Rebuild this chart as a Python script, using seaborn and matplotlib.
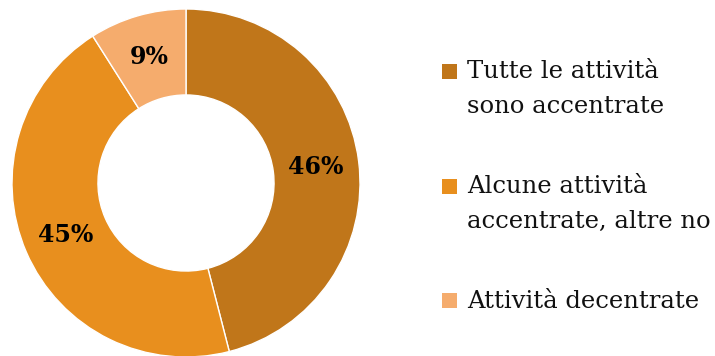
import matplotlib
matplotlib.use("Agg")
import matplotlib.pyplot as plt
from matplotlib.patches import Rectangle
import seaborn as sns

categories = ["Tutte le attività\nsono accentrate",
              "Alcune attività\naccentrate, altre no",
              "Attività decentrate"]
shares = [46, 45, 9]
pct_labels = ["46%", "45%", "9%"]
colors = ["#C0761A", "#E88F1E", "#F5AC6D"]

sns.set_theme(style="white")
plt.rcParams["font.family"] = ["DejaVu Serif"]

W, H = 715, 356
fig = plt.figure(figsize=(W / 100, H / 100), dpi=100)

# donut: outer radius 174 px, centre at (186, 183) px from top-left
R = 174
cx, cy = 186, 183
ax = fig.add_axes([(cx - R) / W, (H - cy - R) / H, 2 * R / W, 2 * R / H])
wedges, texts = ax.pie(
    shares,
    colors=colors,
    startangle=90,
    counterclock=False,
    radius=1.0,
    labels=pct_labels,
    labeldistance=0.753,
    wedgeprops=dict(width=0.494, edgecolor="white", linewidth=1.0),
    textprops=dict(fontsize=17, fontweight="bold", color="black",
                   ha="center", va="center"),
)
ax.set_xlim(-1, 1)
ax.set_ylim(-1, 1)
ax.set_aspect("equal")
ax.axis("off")

# legend beside the ring; each square sits on the first text line
sq = 15
tx = 467
line_gap = 34
first_baselines = [79, 194, 308]
for label, col, yb in zip(categories, colors, first_baselines):
    fig.patches.append(Rectangle((442 / W, (H - yb) / H), sq / W, sq / H,
                                 transform=fig.transFigure, facecolor=col,
                                 edgecolor="none"))
    # va="baseline" anchors the last line, so step down by the extra lines
    last_baseline = yb + line_gap * label.count("\n")
    fig.text(tx / W, (H - last_baseline) / H, label, fontsize=17.5,
             color="#111111", ha="left", va="baseline", linespacing=1.65)

fig.savefig("out.png", dpi=100, facecolor="white")
